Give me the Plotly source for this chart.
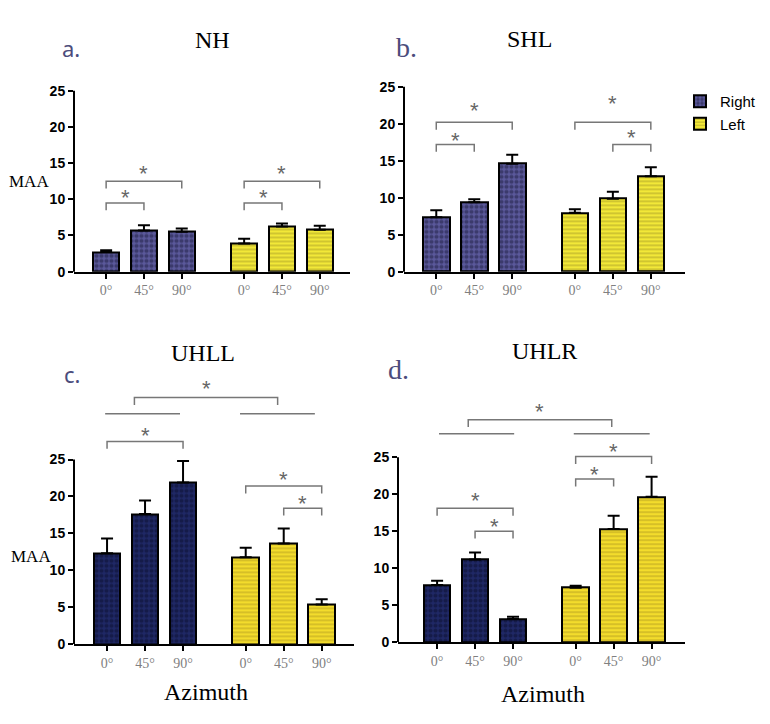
import plotly.graph_objects as go

# the page body adds an 8px margin, so the figure is 8px smaller and offset
OFF = 8
W, H = 770 - OFF, 724 - OFF

angles = ["0°", "45°", "90°"]
slots = [0, 1, 2, 3.65, 4.65, 5.65]

# MAA means and upper error (SEM) per panel, Right ear then Left ear
nh_right = [2.7, 5.7, 5.5]
nh_right_err = [0.25, 0.7, 0.45]
nh_left = [3.9, 6.25, 5.8]
nh_left_err = [0.65, 0.4, 0.55]

shl_right = [7.35, 9.4, 14.6]
shl_right_err = [0.95, 0.4, 1.2]
shl_left = [7.95, 9.85, 12.9]
shl_left_err = [0.5, 0.95, 1.2]

uhll_right = [12.3, 17.6, 21.9]
uhll_right_err = [2.0, 1.85, 2.9]
uhll_left = [11.75, 13.6, 5.35]
uhll_left_err = [1.3, 2.05, 0.7]

uhlr_right = [7.7, 11.15, 3.1]
uhlr_right_err = [0.6, 0.95, 0.3]
uhlr_left = [7.35, 15.3, 19.65]
uhlr_left_err = [0.25, 1.8, 2.7]

# significance brackets: (bar from, bar to, bracket height, star height)
nh_sig = [(0, 1, 9.5, 10.7), (0, 2, 12.5, 14.0), (3, 4, 9.5, 10.7), (3, 5, 12.5, 14.0)]
shl_sig = [(0, 1, 17.2, 18.2), (0, 2, 20.2, 22.2), (4, 5, 17.2, 18.6), (3, 5, 20.2, 23.1)]
uhll_sig = [(0, 2, 27.45, 28.6), (3, 5, 21.4, 22.7), (4, 5, 18.4, 19.4)]
uhlr_sig = [(0, 2, 18.1, 19.5), (1, 2, 15.0, 16.1), (3, 4, 22.06, 23.1), (3, 5, 25.1, 26.2)]
# group comparison: two group lines (x from, x to, height) and a bracket between them
uhll_groups = [(-0.05, 1.92, 31.2), (3.5, 5.47, 31.2)]
uhll_group_sig = (0.72, 4.49, 33.4, 35.0)
uhlr_groups = [(0.05, 2.03, 28.2), (3.6, 5.6, 28.2)]
uhlr_group_sig = (0.82, 4.6, 30.1, 31.6)

panels = [
    dict(title="NH", letter="a.", right=nh_right, right_err=nh_right_err,
         left=nh_left, left_err=nh_left_err, sig=nh_sig, groups=None, gsig=None,
         xpx=(74, 350), y0px=274, ppu=7.33, top=26, xr=[-0.85, 6.45],
         dark=False, title_pos=(212, 39), letter_pos=(71, 48, "Noto Sans", 22),
         maa=(29, 183), az=None),
    dict(title="SHL", letter="b.", right=shl_right, right_err=shl_right_err,
         left=shl_left, left_err=shl_left_err, sig=shl_sig, groups=None, gsig=None,
         xpx=(404, 685), y0px=274, ppu=7.49, top=26, xr=[-0.85, 6.55],
         dark=False, title_pos=(529, 38), letter_pos=(407, 47, "Liberation Serif", 28),
         maa=None, az=None),
    dict(title="UHLL", letter="c.", right=uhll_right, right_err=uhll_right_err,
         left=uhll_left, left_err=uhll_left_err, sig=uhll_sig, groups=uhll_groups,
         gsig=uhll_group_sig,
         xpx=(74, 354), y0px=651, ppu=7.47, top=36, xr=[-0.87, 6.5],
         dark=True, title_pos=(203, 356), letter_pos=(72, 378, "Noto Sans", 22),
         maa=(31, 562), az=(206, 700)),
    dict(title="UHLR", letter="d.", right=uhlr_right, right_err=uhlr_right_err,
         left=uhlr_left, left_err=uhlr_left_err, sig=uhlr_sig, groups=uhlr_groups,
         gsig=uhlr_group_sig,
         xpx=(398, 685), y0px=649, ppu=7.48, top=33, xr=[-1.03, 6.53],
         dark=True, title_pos=(544, 354), letter_pos=(398, 373, "Liberation Serif", 28),
         maa=None, az=(543, 702)),
]

GRAY = "#777777"
STAR = dict(family="Liberation Sans", size=22, color="#666666")


def px_x(x):
    return (x - OFF) / W


def px_y(y):
    return 1 - (y - OFF) / H


fig = go.Figure()
annotations = []
shapes = []

for i, p in enumerate(panels):
    n = "" if i == 0 else str(i + 1)
    xa, ya = "x" + n, "y" + n

    if p["dark"]:
        r_bg, r_fg = "#1f2866", "#0b0e2c"
        y_bg, y_fg = "#f3dc2c", "#a08a1c"
    else:
        r_bg, r_fg = "#5b599c", "#1c1b3c"
        y_bg, y_fg = "#f2e838", "#8d8420"

    fig.add_trace(go.Bar(
        x=slots[:3], y=p["right"], width=0.7, name="Right", xaxis=xa, yaxis=ya,
        showlegend=(i == 1), legendrank=1,
        marker=dict(color=r_bg, line=dict(color="black", width=2),
                    pattern=dict(shape=".", bgcolor=r_bg, fgcolor=r_fg,
                                 size=5, solidity=0.55)),
        error_y=dict(type="data", symmetric=False, array=p["right_err"],
                     arrayminus=[0, 0, 0], color="black", thickness=2, width=6),
    ))
    fig.add_trace(go.Bar(
        x=slots[3:], y=p["left"], width=0.7, name="Left", xaxis=xa, yaxis=ya,
        showlegend=(i == 1), legendrank=2,
        marker=dict(color=y_bg, line=dict(color="black", width=2),
                    pattern=dict(shape="-", bgcolor=y_bg, fgcolor=y_fg,
                                 size=4, solidity=0.35)),
        error_y=dict(type="data", symmetric=False, array=p["left_err"],
                     arrayminus=[0, 0, 0], color="black", thickness=2, width=6),
    ))

    # significance brackets
    bx, by = [], []
    for a, b, h, s in p["sig"]:
        bx += [slots[a], slots[a], slots[b], slots[b], None]
        by += [h - 1.0, h, h, h - 1.0, None]
        annotations.append(dict(x=(slots[a] + slots[b]) / 2, y=s, xref=xa, yref=ya,
                                text="*", showarrow=False, yshift=-3, font=STAR))
    if p["groups"]:
        for a, b, h in p["groups"]:
            bx += [a, b, None]
            by += [h, h, None]
        a, b, h, s = p["gsig"]
        bx += [a, a, b, b, None]
        by += [h - 1.0, h, h, h - 1.0, None]
        annotations.append(dict(x=(a + b) / 2, y=s, xref=xa, yref=ya,
                                text="*", showarrow=False, yshift=-3, font=STAR))
    fig.add_trace(go.Scatter(x=bx, y=by, mode="lines", xaxis=xa, yaxis=ya,
                             line=dict(color=GRAY, width=1.5), showlegend=False,
                             hoverinfo="skip"))

    x0, x1 = p["xpx"]
    yb = p["y0px"]
    yt = yb - p["top"] * p["ppu"]
    xdom = [px_x(x0), px_x(x1)]
    ydom = [px_y(yb), px_y(yt)]

    fig.layout["xaxis" + n] = dict(
        domain=xdom, anchor=ya, range=p["xr"], showgrid=False, zeroline=False,
        showline=True, linecolor="black", linewidth=2,
        tickvals=slots, ticktext=angles * 2, ticks="outside", ticklen=5,
        tickwidth=2, tickcolor="black",
        tickfont=dict(family="Liberation Serif", size=14, color="#808080"),
    )
    fig.layout["yaxis" + n] = dict(
        domain=ydom, anchor=xa, range=[0, p["top"]], showgrid=False, zeroline=False,
        showline=False, tickvals=[0, 5, 10, 15, 20, 25], ticks="outside", ticklen=5,
        tickwidth=2, tickcolor="black",
        tickfont=dict(family="Liberation Sans", size=14, color="black", weight="bold"),
    )
    # y spine from 0 to 25 only
    y25 = ydom[0] + (ydom[1] - ydom[0]) * 25 / p["top"]
    shapes.append(dict(type="line", xref="paper", yref="paper",
                       x0=xdom[0], x1=xdom[0], y0=ydom[0], y1=y25,
                       line=dict(color="black", width=2)))

    tx, ty = p["title_pos"]
    annotations.append(dict(x=px_x(tx), y=px_y(ty), xref="paper", yref="paper",
                            text=p["title"], showarrow=False, xanchor="center",
                            yanchor="middle",
                            font=dict(family="Liberation Serif", size=24, color="black")))
    lx, ly, lf, ls = p["letter_pos"]
    annotations.append(dict(x=px_x(lx), y=px_y(ly), xref="paper", yref="paper",
                            text=p["letter"], showarrow=False, xanchor="center",
                            yanchor="middle",
                            font=dict(family=lf, size=ls, color="#4c4c7c")))
    if p["maa"]:
        mx, my = p["maa"]
        annotations.append(dict(x=px_x(mx), y=px_y(my), xref="paper", yref="paper",
                                text="MAA", showarrow=False, xanchor="center",
                                yanchor="middle",
                                font=dict(family="Liberation Serif", size=17, color="black")))
    if p["az"]:
        zx, zy = p["az"]
        annotations.append(dict(x=px_x(zx), y=px_y(zy), xref="paper", yref="paper",
                                text="Azimuth", showarrow=False, xanchor="center",
                                yanchor="middle",
                                font=dict(family="Liberation Serif", size=24, color="black")))

fig.update_layout(
    width=W, height=H, autosize=False,
    margin=dict(l=0, r=0, t=0, b=0),
    paper_bgcolor="white", plot_bgcolor="white",
    barmode="overlay", bargap=0,
    showlegend=True,
    legend=dict(x=px_x(680), y=px_y(85), xanchor="left", yanchor="top",
                bgcolor="rgba(0,0,0,0)", traceorder="normal",
                font=dict(family="Liberation Sans", size=15, color="black")),
    annotations=annotations, shapes=shapes,
)

fig.write_html("out.html")
